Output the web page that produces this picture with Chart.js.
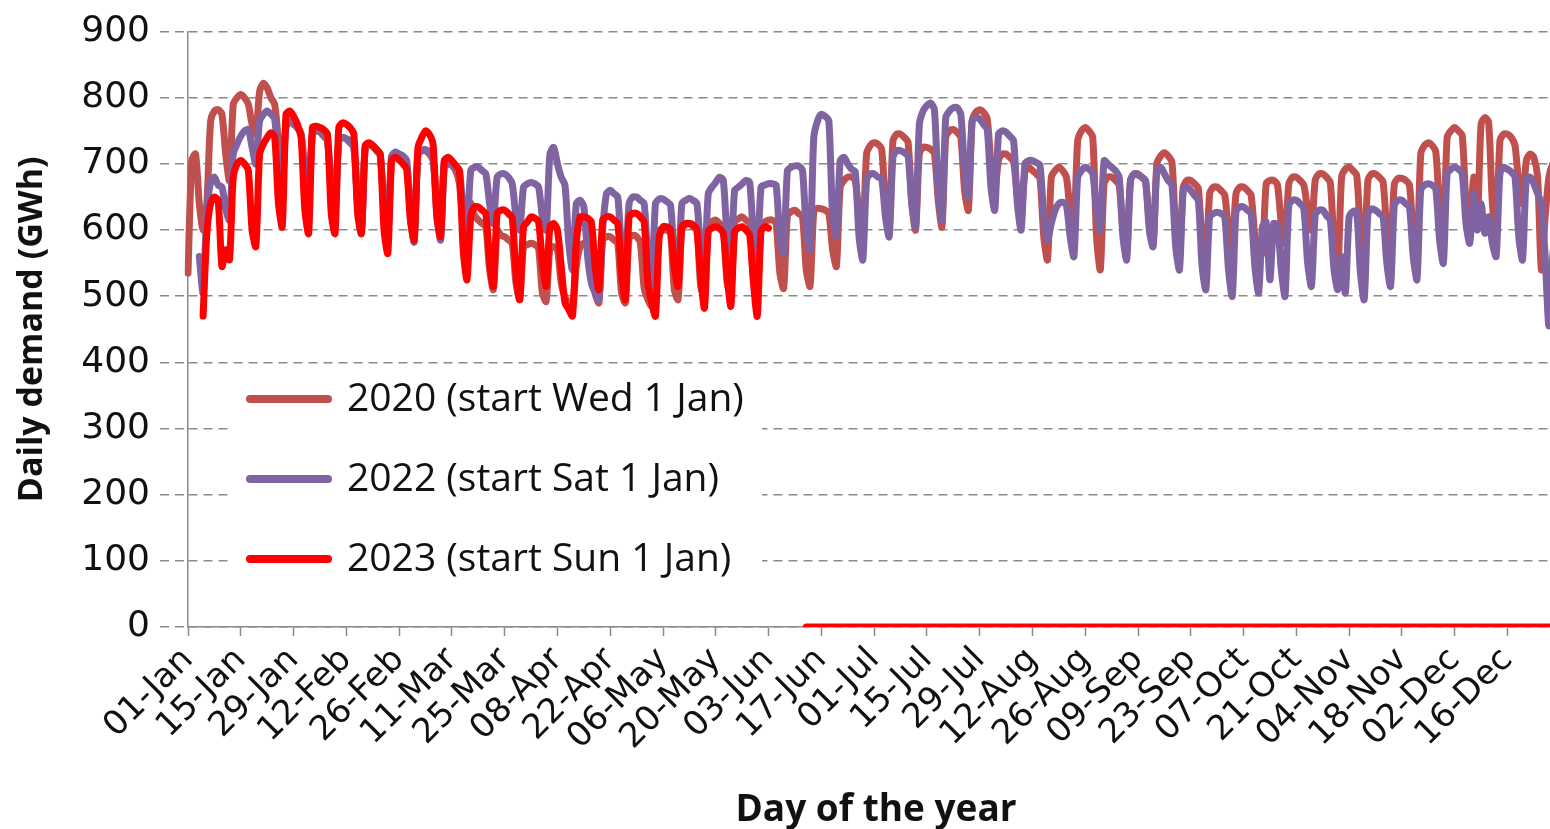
<!DOCTYPE html>
<html>
<head>
<meta charset="utf-8">
<title>Daily demand</title>
<script src="https://cdn.jsdelivr.net/npm/chart.js@4.4.1/dist/chart.umd.min.js"></script>
<style>
  html, body { margin: 0; padding: 0; background: #fff; overflow: hidden; }
  #wrap { width: 1572px; height: 829px; }
</style>
</head>
<body>
<div id="wrap"><canvas id="demandChart" width="1572" height="829"></canvas></div>
<script>
// Tick labels shown on the x axis (every 14th day, 2020 calendar)
const tickLabels = ['01-Jan', '15-Jan', '29-Jan', '12-Feb', '26-Feb', '11-Mar', '25-Mar', '08-Apr',
    '22-Apr', '06-May', '20-May', '03-Jun', '17-Jun', '01-Jul', '15-Jul', '29-Jul', '12-Aug',
    '26-Aug', '09-Sep', '23-Sep', '07-Oct', '21-Oct', '04-Nov', '18-Nov', '02-Dec', '16-Dec'];

const seriesNames = ['2020 (start Wed 1 Jan)', '2022 (start Sat 1 Jan)', '2023 (start Sun 1 Jan)'];
const seriesColors = ['#C0504D', '#8064A2', '#FF0000'];

// Daily demand (GWh), 2020: Wed 1 Jan first, then Mon..Sun rows
const demand2020 = [
    535, 705, 715, 640, 600,
    640, 765, 780, 782, 775, 715, 675,
    790, 800, 805, 800, 790, 760, 745,
    810, 822, 815, 800, 790, 735, 700,
    755, 765, 760, 755, 745, 690, 660,
    745, 750, 748, 742, 735, 670, 640,
    735, 740, 738, 732, 725, 640, 600,
    725, 728, 726, 720, 712, 640, 600,
    712, 717, 715, 710, 702, 630, 595,
    715, 720, 720, 715, 705, 640, 600,
    705, 702, 698, 690, 670, 600, 560,
    640, 622, 615, 610, 605, 540, 510,
    600, 592, 590, 585, 580, 520, 495,
    575, 578, 580, 578, 572, 505, 492,
    572, 575, 570, 520, 498, 490, 482,
    545, 575, 580, 580, 575, 505, 490,
    585, 590, 590, 585, 580, 505, 490,
    588, 592, 590, 580, 512, 495, 485,
    595, 600, 600, 600, 595, 510, 495,
    603, 608, 610, 605, 600, 515, 500,
    608, 613, 615, 610, 605, 520, 505,
    612, 617, 620, 615, 610, 525, 510,
    605, 612, 615, 615, 610, 535, 512,
    622, 628, 630, 625, 620, 540, 515,
    628, 633, 632, 630, 625, 570, 545,
    665, 675, 680, 680, 675, 620, 590,
    715, 728, 732, 730, 722, 640, 605,
    735, 745, 745, 740, 733, 640, 600,
    715, 725, 725, 722, 716, 645, 605,
    740, 750, 752, 748, 740, 660, 630,
    765, 778, 782, 778, 768, 700, 660,
    705, 715, 715, 710, 703, 650, 620,
    688, 695, 690, 685, 678, 590, 555,
    680, 690, 695, 690, 680, 630, 605,
    735, 750, 755, 750, 740, 590, 540,
    670, 680, 680, 675, 668, 600, 565,
    675, 685, 685, 680, 673, 610, 578,
    700, 712, 717, 712, 703, 600, 560,
    665, 675, 675, 670, 663, 580, 545,
    655, 665, 665, 660, 653, 600, 575,
    655, 665, 665, 660, 653, 590, 560,
    565, 670, 675, 675, 668, 610, 580,
    670, 680, 680, 675, 668, 630, 600,
    675, 685, 685, 680, 672, 580, 540,
    680, 692, 695, 690, 683, 600, 565,
    675, 685, 685, 680, 673, 600, 570,
    670, 678, 678, 675, 668, 595, 560,
    715, 728, 732, 728, 718, 630, 590,
    740, 750, 755, 750, 743, 640, 600,
    680, 610, 760, 770, 763, 640, 590,
    735, 745, 745, 740, 728, 670, 640,
    705, 715, 710, 680, 540, 620, 680,
    700, 705, 695, 655
];

// 2022, shifted 3 days so weekdays line up with 2020 (Sat 1 Jan first)
const demand2022 = [
    null, null, null,
    560, 505,
    630, 672, 680, 668, 665, 632, 615,
    715, 730, 742, 750, 752, 725, 700,
    765, 775, 780, 775, 768, 700, 660,
    760, 765, 760, 755, 745, 680, 640,
    745, 750, 750, 745, 735, 660, 620,
    735, 740, 738, 735, 725, 640, 595,
    725, 730, 728, 722, 715, 630, 590,
    710, 718, 715, 712, 705, 620, 582,
    715, 720, 722, 718, 710, 625, 585,
    695, 700, 698, 695, 690, 630, 600,
    690, 695, 695, 690, 685, 640, 610,
    680, 685, 685, 680, 670, 620, 600,
    665, 670, 672, 670, 665, 620, 600,
    715, 725, 700, 680, 668, 580, 540,
    640, 645, 635, 560, 520, 505, 495,
    600, 655, 660, 655, 650, 570, 540,
    640, 650, 650, 645, 640, 555, 520,
    640, 647, 647, 643, 638, 560, 530,
    640, 645, 648, 645, 640, 570, 545,
    655, 665, 672, 680, 675, 590, 560,
    660, 665, 670, 675, 672, 590, 560,
    665, 668, 670, 670, 668, 590, 565,
    690, 695, 697, 697, 690, 600, 570,
    740, 765, 775, 772, 765, 620, 590,
    705, 710, 700, 692, 688, 590, 555,
    675, 685, 685, 680, 678, 620, 590,
    710, 720, 720, 717, 712, 640, 605,
    760, 780, 788, 792, 782, 660, 615,
    770, 780, 785, 785, 775, 690, 650,
    765, 770, 768, 760, 752, 665, 630,
    745, 750, 748, 742, 735, 640, 600,
    700, 705, 705, 702, 698, 620, 585,
    610, 630, 640, 642, 638, 590, 560,
    680, 690, 695, 692, 685, 630, 600,
    705, 700, 695, 690, 680, 590, 555,
    675, 685, 683, 680, 675, 600, 575,
    690, 695, 685, 675, 668, 575, 540,
    660, 665, 660, 652, 645, 545, 510,
    620, 625, 627, 625, 620, 540, 500,
    628, 635, 635, 630, 625, 545, 505,
    605, 612, 525, 610, 608, 540, 500,
    638, 645, 645, 640, 632, 550, 515,
    622, 630, 630, 622, 615, 540, 510,
    560, 505, 620, 628, 628, 535, 495,
    625, 632, 630, 625, 620, 550, 515,
    638, 645, 645, 640, 635, 560, 525,
    660, 668, 670, 668, 662, 585, 550,
    685, 692, 695, 692, 685, 610, 580,
    655, 600, 640, 595, 620, 580, 560,
    685, 695, 692, 688, 680, 590, 555,
    678, 680, 670, 655, 640, 560, 455,
    560, 600, 610, 600
];

// 2023, shifted 4 days (Sun 1 Jan first); data to 31 May, then a gap, then zeros
const demand2023 = [
    null, null, null, null,
    470,
    595, 640, 650, 645, 545, 570, 555,
    680, 700, 705, 700, 690, 600, 575,
    715, 730, 740, 747, 740, 640, 605,
    775, 780, 772, 760, 740, 630, 595,
    755, 757, 755, 752, 745, 625, 595,
    755, 762, 760, 755, 745, 625, 595,
    728, 732, 728, 722, 715, 600, 565,
    705, 710, 706, 700, 692, 615, 585,
    725, 740, 750, 745, 730, 620, 590,
    705, 710, 705, 698, 690, 570, 525,
    620, 635, 635, 630, 625, 555, 515,
    625, 630, 630, 625, 618, 535, 495,
    605, 612, 620, 618, 612, 550, 515,
    605, 610, 600, 545, 490, 480, 470,
    580, 620, 620, 618, 612, 545, 510,
    615, 620, 620, 615, 610, 535, 495,
    620, 625, 625, 620, 612, 520, 490,
    470, 590, 605, 605, 600, 545, 515,
    605, 610, 610, 608, 600, 530, 482,
    598, 603, 605, 602, 595, 530, 485,
    598, 603, 605, 600, 592, 520, 470,
    598, 605, 603,
    null, null, null, null, null, null, null, null, null,
    0, 0, 0, 0, 0, 0, 0, 0, 0, 0, 0, 0, 0, 0, 0, 0, 0, 0, 0, 0,
    0, 0, 0, 0, 0, 0, 0, 0, 0, 0, 0, 0, 0, 0, 0, 0, 0, 0, 0, 0,
    0, 0, 0, 0, 0, 0, 0, 0, 0, 0, 0, 0, 0, 0, 0, 0, 0, 0, 0, 0,
    0, 0, 0, 0, 0, 0, 0, 0, 0, 0, 0, 0, 0, 0, 0, 0, 0, 0, 0, 0,
    0, 0, 0, 0, 0, 0, 0, 0, 0, 0, 0, 0, 0, 0, 0, 0, 0, 0, 0, 0,
    0, 0, 0, 0, 0, 0, 0, 0, 0, 0, 0, 0, 0, 0, 0, 0, 0, 0, 0, 0,
    0, 0, 0, 0, 0, 0, 0, 0, 0, 0, 0, 0, 0, 0, 0, 0, 0, 0, 0, 0,
    0, 0, 0, 0, 0, 0, 0, 0, 0, 0, 0, 0, 0, 0, 0, 0, 0, 0, 0, 0,
    0, 0, 0, 0, 0, 0, 0, 0, 0, 0, 0, 0, 0, 0, 0, 0, 0, 0, 0, 0,
    0, 0, 0, 0, 0, 0, 0, 0, 0, 0, 0, 0, 0, 0, 0, 0, 0, 0, 0, 0,
    0, 0
];

// Category labels: the days of 2020 (leap year, 366 days)
const monthNames = ['Jan', 'Feb', 'Mar', 'Apr', 'May', 'Jun', 'Jul', 'Aug', 'Sep', 'Oct', 'Nov', 'Dec'];
const days = [];
for (let i = 0; i < demand2020.length; i++) {
    const d = new Date(2020, 0, 1 + i);
    days.push(String(d.getDate()).padStart(2, '0') + '-' + monthNames[d.getMonth()]);
}

const gridGrey = '#8a8a8a';

// Legend drawn inside the plot, on a white box
const legendBox = {
    id: 'legendBox',
    afterDraw(chart) {
        const ctx = chart.ctx;
        ctx.save();
        ctx.fillStyle = '#ffffff';
        ctx.fillRect(232, 368, 530, 224);
        seriesNames.forEach((name, i) => {
            const y = 399 + i * 80;
            ctx.strokeStyle = seriesColors[i];
            ctx.lineWidth = 8;
            ctx.lineCap = 'round';
            ctx.beginPath();
            ctx.moveTo(250, y);
            ctx.lineTo(328, y);
            ctx.stroke();
            ctx.fillStyle = '#111111';
            ctx.font = '39px "Open Sans"';
            ctx.textBaseline = 'middle';
            ctx.fillText(name, 347, y + 1);
        });
        ctx.restore();
    }
};

Chart.defaults.font.family = '"DejaVu Sans", Verdana, sans-serif';
Chart.defaults.color = '#111111';

const ctx = document.getElementById('demandChart');
new Chart(ctx, {
    type: 'line',
    data: {
        labels: days,
        datasets: [
            { label: seriesNames[0], data: demand2020, borderColor: seriesColors[0], order: 3 },
            { label: seriesNames[1], data: demand2022, borderColor: seriesColors[1], order: 2 },
            { label: seriesNames[2], data: demand2023, borderColor: seriesColors[2], order: 1 }
        ]
    },
    options: {
        responsive: false,
        animation: false,
        spanGaps: false,
        layout: { padding: { top: 30, right: 8, left: 0, bottom: 0 } },
        elements: {
            point: { radius: 0 },
            line: { borderWidth: 7, tension: 0.25, borderJoinStyle: 'round', borderCapStyle: 'round' }
        },
        plugins: {
            legend: { display: false },
            tooltip: { enabled: false }
        },
        scales: {
            x: {
                afterBuildTicks: (scale) => {
                    scale.ticks = scale.ticks.filter(t => t.value % 14 === 0);
                },
                afterFit: (scale) => { scale.height = 202; },
                grid: {
                    drawOnChartArea: false,
                    tickLength: 9,
                    tickColor: gridGrey,
                    tickWidth: 1.5
                },
                border: { color: gridGrey, width: 1.5 },
                ticks: {
                    autoSkip: false,
                    maxRotation: 45,
                    minRotation: 45,
                    padding: 4,
                    font: { size: 34 },
                    color: '#111111',
                    callback: (value, i) => tickLabels[i]
                },
                title: {
                    display: true,
                    text: 'Day of the year',
                    font: { family: '"Open Sans"', size: 37, weight: 'bold', lineHeight: 1.0 },
                    color: '#111111',
                    padding: { top: 0, bottom: 0 }
                }
            },
            y: {
                min: 0,
                max: 900,
                afterFit: (scale) => { scale.width = 188; },
                grid: {
                    color: gridGrey,
                    lineWidth: 1.5,
                    tickLength: 28,
                    tickColor: gridGrey,
                    tickWidth: 1.5,
                    tickBorderDash: [9, 6]
                },
                border: { color: gridGrey, width: 1.5, dash: [9, 6] },
                ticks: {
                    stepSize: 100,
                    padding: 10,
                    font: { size: 36 },
                    color: '#111111'
                },
                title: {
                    display: true,
                    text: 'Daily demand (GWh)',
                    font: { family: '"Open Sans"', size: 34, weight: 'bold' },
                    color: '#111111',
                    padding: { top: 12, bottom: 0 }
                }
            }
        }
    },
    plugins: [legendBox]
});
</script>
</body>
</html>
